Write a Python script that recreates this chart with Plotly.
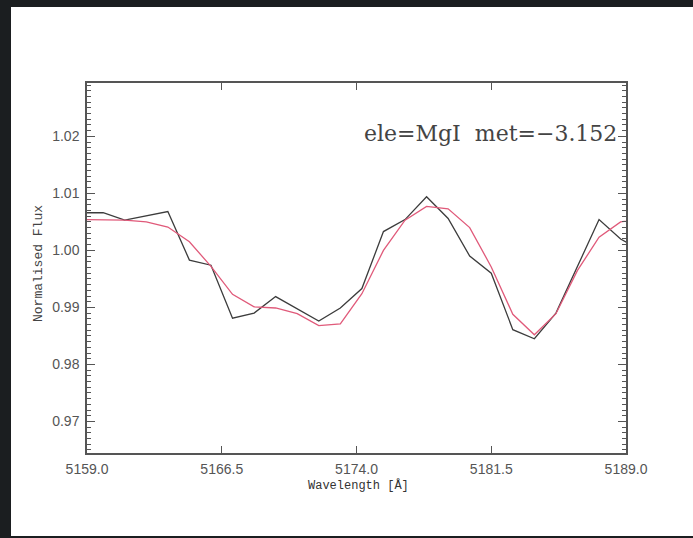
import plotly.graph_objects as go

# Wavelength grid (Angstrom) and normalised flux of the observed and synthetic spectra
wavelength = [5158.7, 5159.9, 5161.1, 5162.3, 5163.5, 5164.7, 5165.9, 5167.1, 5168.3,
              5169.5, 5170.7, 5171.9, 5173.1, 5174.3, 5175.5, 5176.7, 5177.9, 5179.1,
              5180.3, 5181.5, 5182.7, 5183.9, 5185.1, 5186.3, 5187.5, 5188.7, 5189.9]
observed = [1.0066, 1.0066, 1.0053, 1.0060, 1.0068, 0.9983, 0.9974, 0.9881, 0.9890,
            0.9919, 0.9898, 0.9876, 0.9899, 0.9933, 1.0033, 1.0054, 1.0094, 1.0056,
            0.9990, 0.9960, 0.9861, 0.9845, 0.9890, 0.9972, 1.0054, 1.0020, 0.9999]
synthetic = [1.0054, 1.0054, 1.0053, 1.0050, 1.0041, 1.0015, 0.9972, 0.9923, 0.9901,
             0.9899, 0.9889, 0.9868, 0.9871, 0.9924, 1.0000, 1.0053, 1.0077, 1.0073,
             1.0040, 0.9971, 0.9888, 0.9852, 0.9889, 0.9965, 1.0023, 1.0050, 1.0055]

x_ticks = [5159.0, 5166.5, 5174.0, 5181.5, 5189.0]
y_ticks = [0.97, 0.98, 0.99, 1.00, 1.01, 1.02]
label_text = "ele=MgI\u00a0\u00a0met=\u22123.152"

W, H = 693, 538
L, R, T, B = 87, 67, 83, 85
pw, ph = W - L - R, H - T - B

fig = go.Figure()
fig.add_trace(go.Scatter(x=wavelength, y=observed, mode="lines",
                         line=dict(color="#3c3c3c", width=1.3), showlegend=False))
fig.add_trace(go.Scatter(x=wavelength, y=synthetic, mode="lines",
                         line=dict(color="#e05a7a", width=1.3), showlegend=False))

axis_common = dict(showline=True, linecolor="#555555", linewidth=1.5, mirror="ticks",
                   ticks="inside", tickcolor="#555555", showgrid=False, zeroline=False,
                   tickfont=dict(family="Liberation Sans, Arial, sans-serif", size=14,
                                 color="#555555"))

fig.update_xaxes(range=[5159.0, 5189.0], tickvals=x_ticks,
                 ticktext=[f"{v:.1f}" for v in x_ticks], ticklen=7, tickwidth=1,
                 ticklabelstandoff=2, **axis_common)
fig.update_yaxes(range=[0.96447, 1.02935], tickvals=y_ticks,
                 ticktext=[f"{v:.2f}" for v in y_ticks], ticklen=8, tickwidth=1,
                 minor=dict(dtick=0.001, ticklen=4, tickcolor="#555555", ticks="inside"),
                 ticklabelstandoff=3, **axis_common)

# White page on a dark backdrop
fig.add_shape(type="rect", xref="paper", yref="paper", layer="below",
              x0=(11 - L) / pw, x1=(W - L) / pw,
              y0=(T + ph - 536) / ph, y1=(T + ph - 7) / ph,
              fillcolor="white", line=dict(width=0))

fig.add_annotation(text=label_text, xref="paper", yref="paper",
                   x=(619 - L) / pw, y=(T + ph - 133) / ph,
                   xanchor="right", yanchor="middle", showarrow=False,
                   font=dict(family="DejaVu Serif, serif", size=22, color="#444444"))
fig.add_annotation(text="Wavelength [Å]", xref="paper", yref="paper",
                   x=(358 - L) / pw, y=(T + ph - 485) / ph,
                   xanchor="center", yanchor="middle", showarrow=False,
                   font=dict(family="Liberation Mono, monospace", size=12, color="#333333"))
fig.add_annotation(text="Normalised Flux", xref="paper", yref="paper",
                   x=(38 - L) / pw, y=(T + ph - 264) / ph, textangle=-90,
                   xanchor="center", yanchor="middle", showarrow=False,
                   font=dict(family="Liberation Mono, monospace", size=13, color="#444444"))

fig.update_layout(width=W, height=H, margin=dict(l=L, r=R, t=T, b=B),
                  paper_bgcolor="#1b1e20", plot_bgcolor="white")

fig.write_html("out.html")
